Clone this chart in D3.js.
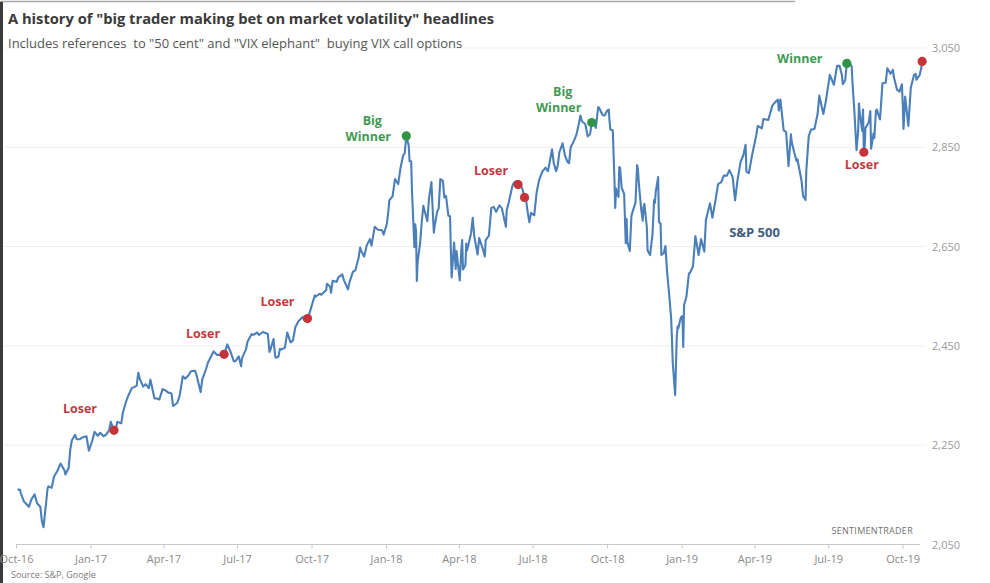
<!DOCTYPE html>
<html><head><meta charset="utf-8">
<script src="https://cdn.jsdelivr.net/npm/d3@7/dist/d3.min.js"></script>
<style>
html,body{margin:0;padding:0;background:#fff;}
svg{display:block;font-family:"Open Sans",sans-serif;}
</style></head>
<body>
<svg id="chart" width="990" height="583"></svg>
<script>
const dates = [
"2016-10-03","2016-10-06","2016-10-07","2016-10-11","2016-10-13","2016-10-17","2016-10-20","2016-10-24","2016-10-27","2016-10-31",
"2016-11-02","2016-11-04","2016-11-07","2016-11-09","2016-11-10","2016-11-14","2016-11-17","2016-11-21","2016-11-25","2016-11-30",
"2016-12-01","2016-12-05","2016-12-07","2016-12-09","2016-12-13","2016-12-15","2016-12-19","2016-12-21","2016-12-27","2016-12-30",
"2017-01-03","2017-01-06","2017-01-10","2017-01-13","2017-01-17","2017-01-20","2017-01-24","2017-01-26","2017-01-30","2017-02-01",
"2017-02-03","2017-02-08","2017-02-10","2017-02-14","2017-02-16","2017-02-21","2017-02-24","2017-02-27","2017-03-01","2017-03-03",
"2017-03-07","2017-03-10","2017-03-14","2017-03-16","2017-03-21","2017-03-24","2017-03-27","2017-03-31","2017-04-04","2017-04-07",
"2017-04-11","2017-04-13","2017-04-18","2017-04-21","2017-04-25","2017-04-28","2017-05-02","2017-05-05","2017-05-10","2017-05-12",
"2017-05-17","2017-05-19","2017-05-24","2017-05-26","2017-06-02","2017-06-06","2017-06-09","2017-06-12","2017-06-15","2017-06-19",
"2017-06-23","2017-06-27","2017-06-29","2017-07-03","2017-07-06","2017-07-07","2017-07-12","2017-07-14","2017-07-19","2017-07-21",
"2017-07-26","2017-07-28","2017-08-02","2017-08-08","2017-08-10","2017-08-11","2017-08-15","2017-08-17","2017-08-18","2017-08-21",
"2017-08-23","2017-08-25","2017-08-29","2017-09-01","2017-09-05","2017-09-08","2017-09-11","2017-09-15","2017-09-20","2017-09-22",
"2017-09-26","2017-09-29","2017-10-05","2017-10-06","2017-10-11","2017-10-13","2017-10-17","2017-10-19","2017-10-20","2017-10-24",
"2017-10-25","2017-10-27","2017-11-01","2017-11-03","2017-11-08","2017-11-10","2017-11-15","2017-11-17","2017-11-21","2017-11-24",
"2017-11-28","2017-11-30","2017-12-01","2017-12-05","2017-12-08","2017-12-12","2017-12-14","2017-12-18","2017-12-22","2017-12-27",
"2017-12-29","2018-01-02","2018-01-04","2018-01-05","2018-01-09","2018-01-12","2018-01-16","2018-01-18","2018-01-19","2018-01-22",
"2018-01-24","2018-01-26","2018-01-29","2018-01-30","2018-02-01","2018-02-02","2018-02-05","2018-02-06","2018-02-07","2018-02-08",
"2018-02-09","2018-02-12","2018-02-14","2018-02-16","2018-02-21","2018-02-23","2018-02-26","2018-02-27","2018-03-01","2018-03-02",
"2018-03-05","2018-03-07","2018-03-09","2018-03-12","2018-03-14","2018-03-16","2018-03-19","2018-03-21","2018-03-22","2018-03-23",
"2018-03-26","2018-03-28","2018-03-29","2018-04-02","2018-04-03","2018-04-04","2018-04-05","2018-04-06","2018-04-09","2018-04-10",
"2018-04-11","2018-04-13","2018-04-16","2018-04-18","2018-04-20","2018-04-24","2018-04-26","2018-04-30","2018-05-02","2018-05-03",
"2018-05-04","2018-05-08","2018-05-11","2018-05-14","2018-05-17","2018-05-21","2018-05-24","2018-05-29","2018-05-30","2018-06-01",
"2018-06-06","2018-06-08","2018-06-11","2018-06-13","2018-06-14","2018-06-15","2018-06-19","2018-06-21","2018-06-22","2018-06-25",
"2018-06-27","2018-06-29","2018-07-03","2018-07-06","2018-07-09","2018-07-13","2018-07-17","2018-07-19","2018-07-20","2018-07-25",
"2018-07-27","2018-07-30","2018-08-01","2018-08-03","2018-08-07","2018-08-10","2018-08-13","2018-08-15","2018-08-17","2018-08-21",
"2018-08-24","2018-08-27","2018-08-29","2018-08-31","2018-09-04","2018-09-07","2018-09-10","2018-09-12","2018-09-14","2018-09-17",
"2018-09-20","2018-09-21","2018-09-25","2018-09-27","2018-09-28","2018-10-01","2018-10-03","2018-10-04","2018-10-05","2018-10-08",
"2018-10-10","2018-10-11","2018-10-12","2018-10-15","2018-10-16","2018-10-17","2018-10-19","2018-10-22","2018-10-24","2018-10-25",
"2018-10-26","2018-10-29","2018-10-31","2018-11-02","2018-11-05","2018-11-07","2018-11-08","2018-11-09","2018-11-12","2018-11-14",
"2018-11-15","2018-11-16","2018-11-19","2018-11-20","2018-11-23","2018-11-26","2018-11-28","2018-11-29","2018-11-30","2018-12-03",
"2018-12-04","2018-12-06","2018-12-07","2018-12-10","2018-12-12","2018-12-14","2018-12-17","2018-12-19","2018-12-20","2018-12-21",
"2018-12-24","2018-12-26","2018-12-27","2018-12-28","2018-12-31","2019-01-02","2019-01-03","2019-01-04","2019-01-07","2019-01-10",
"2019-01-11","2019-01-15","2019-01-18","2019-01-22","2019-01-25","2019-01-29","2019-01-31","2019-02-05","2019-02-08","2019-02-12",
"2019-02-15","2019-02-19","2019-02-22","2019-02-26","2019-03-01","2019-03-05","2019-03-08","2019-03-11","2019-03-15","2019-03-18",
"2019-03-21","2019-03-22","2019-03-25","2019-03-29","2019-04-03","2019-04-05","2019-04-10","2019-04-12","2019-04-18","2019-04-23",
"2019-04-26","2019-04-30","2019-05-01","2019-05-03","2019-05-07","2019-05-10","2019-05-13","2019-05-16","2019-05-17","2019-05-20",
"2019-05-23","2019-05-24","2019-05-29","2019-05-31","2019-06-03","2019-06-04","2019-06-07","2019-06-10","2019-06-14","2019-06-18",
"2019-06-20","2019-06-25","2019-06-28","2019-07-03","2019-07-08","2019-07-12","2019-07-15","2019-07-18","2019-07-19","2019-07-22",
"2019-07-24","2019-07-26","2019-07-30","2019-07-31","2019-08-01","2019-08-02","2019-08-05","2019-08-07","2019-08-08","2019-08-09",
"2019-08-12","2019-08-13","2019-08-14","2019-08-15","2019-08-16","2019-08-20","2019-08-22","2019-08-23","2019-08-26","2019-08-27",
"2019-08-29","2019-08-30","2019-09-03","2019-09-06","2019-09-10","2019-09-12","2019-09-16","2019-09-19","2019-09-20","2019-09-24",
"2019-09-27","2019-09-30","2019-10-01","2019-10-02","2019-10-04","2019-10-08","2019-10-09","2019-10-11","2019-10-15","2019-10-17",
"2019-10-18","2019-10-22","2019-10-24","2019-10-25"
];
const spx = [
2161,2160,2153,2136,2133,2126,2141,2151,2133,2126,
2097,2085,2131,2163,2167,2164,2187,2198,2213,2199,
2191,2204,2241,2260,2271,2262,2262,2265,2268,2239,
2258,2277,2269,2275,2268,2271,2280,2297,2280,2279,
2297,2294,2316,2338,2347,2365,2367,2370,2396,2383,
2368,2373,2365,2382,2344,2344,2342,2363,2360,2356,
2354,2329,2335,2349,2389,2384,2391,2399,2400,2391,
2357,2382,2405,2416,2439,2432,2432,2430,2433,2453,
2438,2419,2419,2429,2409,2425,2443,2459,2474,2472,
2477,2472,2478,2474,2438,2441,2464,2430,2426,2428,
2444,2443,2446,2477,2457,2461,2488,2500,2508,2502,
2505,2519,2552,2549,2555,2553,2559,2562,2575,2569,
2557,2581,2579,2588,2594,2582,2564,2579,2599,2602,
2627,2648,2642,2630,2652,2665,2652,2690,2684,2683,
2674,2696,2724,2743,2751,2786,2776,2799,2810,2833,
2838,2873,2853,2822,2822,2762,2649,2695,2682,2581,
2620,2656,2698,2732,2701,2747,2780,2744,2678,2691,
2720,2727,2786,2783,2749,2752,2712,2711,2643,2588,
2658,2605,2641,2582,2614,2645,2663,2604,2613,2656,
2642,2656,2677,2708,2670,2634,2667,2648,2636,2630,
2663,2672,2728,2730,2720,2733,2727,2690,2724,2735,
2772,2779,2782,2775,2782,2780,2762,2749,2755,2718,
2699,2718,2713,2760,2784,2801,2809,2804,2802,2846,
2819,2802,2813,2840,2858,2833,2821,2818,2850,2863,
2875,2897,2914,2902,2897,2872,2877,2900,2905,2889,
2931,2930,2916,2914,2914,2924,2926,2902,2886,2884,
2786,2728,2767,2750,2810,2809,2768,2756,2657,2706,
2659,2641,2712,2723,2738,2814,2807,2781,2726,2702,
2730,2736,2690,2642,2633,2674,2744,2738,2760,2790,
2700,2696,2633,2637,2651,2600,2546,2507,2467,2417,
2351,2468,2489,2486,2507,2510,2448,2532,2550,2596,
2596,2610,2671,2633,2665,2640,2704,2737,2708,2745,
2776,2780,2793,2793,2804,2790,2743,2784,2822,2833,
2855,2801,2798,2834,2873,2893,2888,2907,2905,2934,
2940,2946,2924,2946,2884,2881,2812,2876,2860,2840,
2822,2826,2783,2752,2744,2804,2873,2886,2887,2918,
2954,2917,2942,2996,2976,3014,3014,2995,2977,2985,
3019,3026,3013,2980,2954,2932,2844,2883,2938,2919,
2883,2926,2840,2848,2889,2900,2923,2847,2878,2869,
2924,2926,2906,2979,2980,3009,2998,3006,2992,2966,
2962,2977,2940,2887,2952,2893,2919,2970,2996,2998,
2986,2996,3010,3023
];
// headline markers
const markDates  = ["2017-01-30","2017-06-15","2017-09-26","2018-01-26","2018-06-13","2018-06-21","2018-09-12","2019-07-24","2019-08-14","2019-10-25"];
const markTypes  = ["loss","loss","loss","win","loss","loss","win","win","loss","loss"];
const markLabels = [["Loser"],["Loser"],["Loser"],["Big","Winner"],["Loser"],[],["Big","Winner"],["Winner"],["Loser"],[]];
const markLabelDx = [-34,-21,-30,-38,-27,0,-33,-47,-2,0];
const markLabelDy = [-17,-16,-13,5,-10,0,-10,0,17,0];

const yTicks = [2050,2250,2450,2650,2850,3050];
const xTickDates = ["2016-10-01","2017-01-01","2017-04-01","2017-07-01","2017-10-01","2018-01-01","2018-04-01","2018-07-01","2018-10-01","2019-01-01","2019-04-01","2019-07-01","2019-10-01"];
const xTickLabels = ["Oct-16","Jan-17","Apr-17","Jul-17","Oct-17","Jan-18","Apr-18","Jul-18","Oct-18","Jan-19","Apr-19","Jul-19","Oct-19"];

const parse = d3.utcParse("%Y-%m-%d");
const data = dates.map((d,i)=>({date:parse(d), v:spx[i]}));
const valueAt = new Map(dates.map((d,i)=>[d,spx[i]]));

const svg = d3.select("#chart");
const x0 = parse("2016-10-01"), x1 = parse("2019-10-25");
const pxPerDay = 886.7/1095;
const x = d3.scaleUtc().domain([x0,x1]).range([16, 16 + (x1-x0)/864e5*pxPerDay]);
const y = d3.scaleLinear().domain([2050,3050]).range([544.5,48]);

// frame
svg.append("rect").attr("x",0).attr("y",0).attr("width",990).attr("height",583).attr("fill","#fff");
svg.append("line").attr("x1",0).attr("x2",795).attr("y1",1.5).attr("y2",1.5).attr("stroke","#a8a8a8").attr("stroke-width",1.5);
svg.append("rect").attr("x",0).attr("y",2).attr("width",3).attr("height",581).attr("fill","#3b3b3b");

// gridlines
svg.append("g").selectAll("line").data(yTicks.slice(1)).join("line")
  .attr("x1",4).attr("x2",926).attr("y1",d=>y(d)).attr("y2",d=>y(d))
  .attr("stroke","#efefef").attr("stroke-width",1);

// y axis labels (right)
const yAxis = d3.axisRight(y).tickValues(yTicks).tickSize(0).tickPadding(0).tickFormat(d3.format(","));
const gy = svg.append("g").attr("transform","translate(932,0)").call(yAxis);
gy.select(".domain").remove();
gy.selectAll("text").attr("fill","#9a9a9a").style("font-size","11px").style("font-family","Open Sans");

// x axis
const xAxis = d3.axisBottom(x).tickValues(xTickDates.map(parse)).tickSize(4).tickPadding(7)
  .tickFormat((d,i)=>xTickLabels[i]);
const gx = svg.append("g").attr("transform",`translate(0,${y(2050)})`).call(xAxis);
gx.select(".domain").attr("stroke","#c8c8c8").attr("d",`M${x(x0)},0H${x(x1)-2}`);
gx.selectAll(".tick line").attr("stroke","#c8c8c8");
gx.selectAll("text").attr("fill","#8a8a8a").style("font-size","11px").style("font-family","Open Sans");

// line
const line = d3.line().x(d=>x(d.date)).y(d=>y(d.v)).curve(d3.curveLinear);
svg.append("path").datum(data).attr("d",line).attr("fill","none")
  .attr("stroke","#4a7fba").attr("stroke-width",2.1).attr("stroke-linejoin","round");

// markers
const RED="#c4343a", GREEN="#2f9444", RED_T="#c23a3e", GREEN_T="#3e9a52";
markDates.forEach((d,i)=>{
  const cx = x(parse(d)), cy = y(valueAt.get(d));
  const col = markTypes[i]==="win"?GREEN:RED;
  const tcol = markTypes[i]==="win"?GREEN_T:RED_T;
  svg.append("circle").attr("cx",cx).attr("cy",cy).attr("r",4.6).attr("fill",col);
  markLabels[i].forEach((t,j)=>{
    const n = markLabels[i].length;
    svg.append("text").attr("x",cx+markLabelDx[i] + (n>1 && j===0 ? 4 : 0)).attr("y",cy+markLabelDy[i] - (n-1-j)*16)
      .attr("text-anchor","middle").attr("fill",tcol)
      .style("font-size","12.5px").style("font-weight","bold").text(t);
  });
});

// series label
svg.append("text").attr("x",x(parse("2019-04-01"))).attr("y",y(2650)-10)
  .attr("text-anchor","middle").attr("fill","#3f5d80").style("font-size","13px").style("font-weight","bold").text("S&P 500");

// titles
svg.append("text").attr("x",8).attr("y",24).attr("fill","#3a3a3a")
  .style("font-size","14.7px").style("font-weight","bold")
  .text('A history of "big trader making bet on market volatility" headlines');
svg.append("text").attr("x",8).attr("y",48).attr("fill","#555")
  .style("font-size","13px").style("white-space","pre")
  .text('Includes references  to "50 cent" and "VIX elephant"  buying VIX call options');

// watermark & source
svg.append("text").attr("x",913).attr("y",534).attr("text-anchor","end").attr("fill","#707070")
  .style("font-size","9px").style("letter-spacing","0.3px").text("SENTIMENTRADER");
svg.append("text").attr("x",11).attr("y",578).attr("fill","#7a7a7a")
  .style("font-size","9px").text("Source: S&P, Google");
</script>
</body></html>
